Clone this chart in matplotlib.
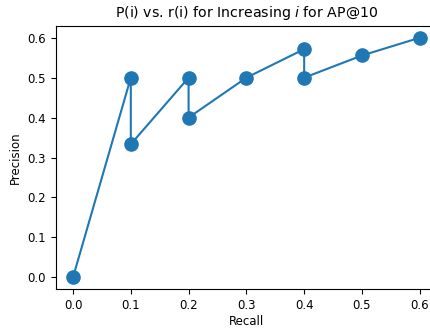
import matplotlib
matplotlib.use("Agg")
import matplotlib.pyplot as plt

recall = [0.0, 0.1, 0.1, 0.2, 0.2, 0.3, 0.4, 0.4, 0.5, 0.6]
precision = [0.0, 0.5, 1/3, 0.5, 0.4, 0.5, 4/7, 0.5, 5/9, 0.6]

plt.rcParams['font.size'] = 8.5
fig = plt.figure(figsize=(4.3, 3.29), dpi=100)
ax = fig.add_axes([0.1295, 0.1207, 0.887, 0.801])
ax.plot(recall, precision, '-o', color='#1f77b4', markersize=9.5, linewidth=1.5)
ax.set_xlim(-0.03, 0.63)
ax.set_ylim(-0.03, 0.63)
ax.set_xlabel('Recall', labelpad=2)
ax.set_ylabel('Precision')
ax.set_title('P(i) vs. r(i) for Increasing $i$ for AP@10', fontsize=10.2)
fig.savefig('out.png', dpi=100)
